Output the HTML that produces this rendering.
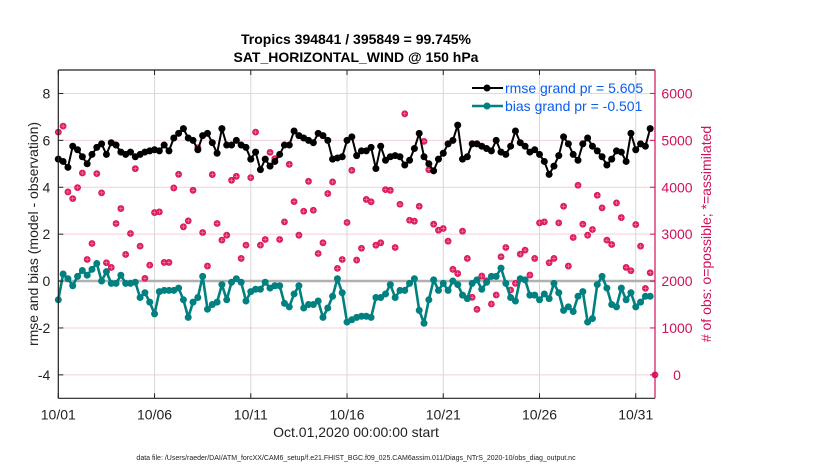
<!DOCTYPE html>
<html><head><meta charset="utf-8"><style>
body{margin:0;background:#fff;}
svg text{font-family:"Liberation Sans",sans-serif;}
</style></head><body>
<svg id="chart" width="830" height="470" viewBox="0 0 830 470" xmlns="http://www.w3.org/2000/svg">
<rect width="830" height="470" fill="#fff"/>
<g id="grid"></g>
<g id="series"></g>
<g id="axes"></g>
</svg>
<script>
const rmse=[5.2,5.1,4.85,5.75,5.6,5.3,5.0,5.4,5.7,5.85,5.4,5.9,5.8,5.5,5.4,5.5,5.3,5.4,5.5,5.55,5.6,5.55,5.8,5.55,6.1,6.3,6.5,6.1,6.0,5.6,6.2,6.3,5.9,5.45,6.5,5.8,5.8,6.0,5.8,5.7,5.2,5.5,4.75,5.2,4.9,5.1,5.4,5.8,5.8,6.4,6.2,6.1,6.0,5.9,6.3,6.2,6.0,5.2,5.25,
5.3,6.0,6.15,5.35,5.55,5.55,5.7,4.8,5.75,5.15,5.3,5.35,5.3,4.95,5.15,5.65,6.3,5.3,5.0,4.7,5.2,5.45,5.85,6.0,6.65,5.2,5.3,5.85,5.85,5.75,5.65,5.55,6.0,5.5,5.4,5.75,6.4,5.9,5.75,5.5,5.6,5.4,5.1,4.55,4.9,5.35,6.15,5.85,5.4,5.15,5.85,6.1,5.75,5.55,5.3,4.95,5.2,5.55,5.5,5.1,6.3,5.6,5.85,5.75,6.5];
const bias=[-0.8,0.3,0.1,-0.2,0.2,0.45,0.25,0.5,0.75,0,0.4,-0.1,-0.1,0.25,-0.1,-0.1,-0.05,-0.7,-0.5,-0.9,-1.4,-0.45,-0.4,-0.4,-0.4,-0.3,-0.8,-1.55,-0.9,-0.7,0.2,-1.2,-1.0,-0.9,-0.15,-0.8,-0.05,0.1,-0.05,-0.85,-0.45,-0.35,-0.35,-0.05,-0.3,-0.2,-0.2,-0.95,-1.1,-0.55,-0.2,-1.15,-1.0,-1.0,-0.85,-1.55,-1.15,-0.65,0.1,-0.5,
-1.75,-1.65,-1.55,-1.5,-1.5,-1.55,-0.7,-0.7,-0.55,-0.15,-0.7,-0.4,-0.4,-0.1,0.1,-1.25,-1.8,-0.8,0.05,-0.4,-0.1,-0.4,0,-0.15,-0.6,-0.75,-0.1,0.05,-0.35,-0.05,0.2,0.2,0.55,-0.1,-0.7,-0.85,0.1,0.05,-0.6,-0.6,-0.8,-0.55,-0.75,-0.1,-0.5,-1.25,-1.1,-1.3,-0.65,-0.45,-1.75,-1.6,-0.15,0.2,-0.3,-1.0,-1.1,-0.3,-0.8,-0.5,-1.1,-0.9,-0.65,-0.65];
const obs=[5176,5304,3900,3758,3992,4304,2460,2800,4290,3880,2390,2290,3227,3546,2567,3014,4396,2745,2057,2340,3460,3475,2397,2397,3985,4276,3156,3283,3935,4843,3035,2320,4270,3227,2872,2978,4148,4233,2482,2766,4205,5176,2766,2886,4744,4609,2886,3262,4489,3694,2978,3489,4127,3510,2588,2815,3865,4113,2270,2460,3248,4361,
2447,2700,3740,3690,2765,2815,3950,3935,2716,3638,5566,3297,3276,3595,4978,4375,3212,3085,3120,2850,2250,2160,3063,2482,1653,1397,2106,2007,1511,1702,2518,2716,1809,1950,2574,2660,2128,2482,3240,3262,2390,2482,3240,3595,2320,2929,4042,3212,2978,3099,3830,3560,2872,2780,3666,3354,2290,2220,3205,2745,1844,2177,0];
const yTicks=[-4,-2,0,2,4,6,8];
const obsTicks=[0,1000,2000,3000,4000,5000,6000];
const xTickDays=[0,5,10,15,20,25,30];
const xTickLabels=['10/01','10/06','10/11','10/16','10/21','10/26','10/31'];

const L=58.3,R=655,T=70,B=398.3,YMIN=-5,YMAX=9,DAYS=31;
const NS='http://www.w3.org/2000/svg';
const xs=d=>L+(R-L)*d/DAYS;
const ys=v=>B-(B-T)*(v-YMIN)/(YMAX-YMIN);
const yo=o=>ys(o/500-4);
function mk(tag,attrs,parent,txt){const e=document.createElementNS(NS,tag);for(const k in attrs)e.setAttribute(k,attrs[k]);if(txt!==undefined)e.textContent=txt;parent.appendChild(e);return e;}
const grid=document.getElementById('grid'),ser=document.getElementById('series'),ax=document.getElementById('axes');

yTicks.forEach(v=>{const l=mk('line',{x1:L,x2:R,y1:ys(v),y2:ys(v),stroke:'#f3cfdc','stroke-width':1},grid);

});
xTickDays.forEach(d=>{const l=mk('line',{x1:xs(d),x2:xs(d),y1:T,y2:B,stroke:'#d8d8d8','stroke-width':1},grid);

});
const zl=mk('line',{x1:L,x2:R,y1:ys(0),y2:ys(0),stroke:'#b0b0b0','stroke-width':2.5},grid);



obs.forEach((o,i)=>{const cx=xs(i*0.25),cy=yo(o);const g=mk('g',{},ser);


mk('circle',{cx:cx,cy:cy,r:3.4,fill:'#dc1a5c'},g);
mk('path',{d:`M${cx-2.2} ${cy}H${cx+2.2}M${cx} ${cy-2.2}V${cy+2.2}`,stroke:'#f6a0bd','stroke-width':0.5},g);});

function series(data,color,name,r,w){
 const pts=data.map((v,i)=>xs(i*0.25)+','+ys(v)).join(' ');
 const pl=mk('polyline',{points:pts,fill:'none',stroke:color,'stroke-width':w,'stroke-linejoin':'round'},ser);
 
 
 data.forEach((v,i)=>{const c=mk('circle',{cx:xs(i*0.25),cy:ys(v),r:r,fill:color},ser);
 
 });
}
series(rmse,'#000','rmse',3.5,2);
series(bias,'#008080','bias',3.5,2.6);

mk('line',{x1:L,x2:R,y1:T,y2:T,stroke:'#222','stroke-width':1.2},ax);
mk('line',{x1:L,x2:R,y1:B,y2:B,stroke:'#222','stroke-width':1.2},ax);
mk('line',{x1:L,x2:L,y1:T,y2:B,stroke:'#222','stroke-width':1.2},ax);
const ra=mk('line',{x1:R,x2:R,y1:T,y2:B,stroke:'#d0105a','stroke-width':1.2},ax);


yTicks.forEach(v=>{mk('line',{x1:L,x2:L+5,y1:ys(v),y2:ys(v),stroke:'#222'},ax);
 const t=mk('text',{x:L-8,y:ys(v)+5,'text-anchor':'end','font-size':14,fill:'#222'},ax,String(v));
 
 });
obsTicks.forEach(o=>{mk('line',{x1:R-5,x2:R,y1:yo(o),y2:yo(o),stroke:'#d0105a'},ax);
 const t=mk('text',{x:R+22,y:yo(o)+5,'text-anchor':'middle','font-size':14,fill:'#d0105a'},ax,String(o));
 
 });
xTickDays.forEach((d,i)=>{mk('line',{x1:xs(d),x2:xs(d),y1:B-5,y2:B,stroke:'#222'},ax);mk('line',{x1:xs(d),x2:xs(d),y1:T,y2:T+5,stroke:'#222'},ax);
 const t=mk('text',{x:xs(d),y:B+21,'text-anchor':'middle','font-size':14,fill:'#222'},ax,xTickLabels[i]);
 
 });
</script>
<svg style="position:absolute;left:0;top:0" width="830" height="470">
<text x="356" y="44" text-anchor="middle" font-size="14" font-weight="bold" fill="#000">Tropics 394841 / 395849 = 99.745%</text>
<text x="356" y="62" text-anchor="middle" font-size="14" font-weight="bold" fill="#000">SAT_HORIZONTAL_WIND @ 150 hPa</text>
<text transform="translate(38,234) rotate(-90)" text-anchor="middle" font-size="14" fill="#222">rmse and bias (model - observation)</text>
<text transform="translate(711,234) rotate(-90)" text-anchor="middle" font-size="14" fill="#d0105a"># of obs: o=possible; *=assimilated</text>
<text x="356" y="437" text-anchor="middle" font-size="14" fill="#222">Oct.01,2020 00:00:00 start</text>
<text x="356" y="460" text-anchor="middle" font-size="7" fill="#222">data file: /Users/raeder/DAI/ATM_forcXX/CAM6_setup/f.e21.FHIST_BGC.f09_025.CAM6assim.011/Diags_NTrS_2020-10/obs_diag_output.nc</text>
<g>
<line x1="472" y1="88" x2="503" y2="88" stroke="#000" stroke-width="2"/><circle cx="487" cy="88" r="3.5" fill="#000"/>
<text x="505" y="93" font-size="14" fill="#0b5cf0">rmse grand pr = 5.605</text>
<line x1="472" y1="106" x2="503" y2="106" stroke="#008080" stroke-width="2.5"/><circle cx="487" cy="106" r="3.5" fill="#008080"/>
<text x="505" y="111" font-size="14" fill="#0b5cf0">bias grand pr = -0.501</text>
</g>
</svg>
</body></html>
